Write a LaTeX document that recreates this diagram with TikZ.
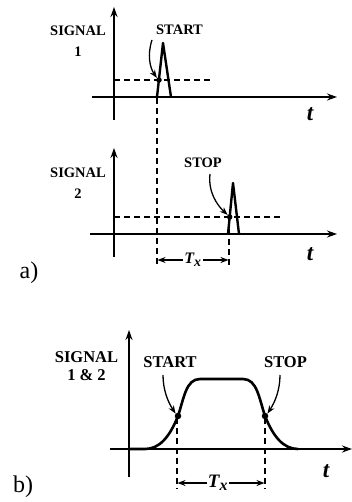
\documentclass[tikz,border=0pt]{standalone}
\usepackage{fontspec}
\setmainfont{Liberation Serif}
\usetikzlibrary{arrows.meta}
\begin{document}
\begin{tikzpicture}[x=1pt,y=-1pt,
  axis/.style={line width=1.8pt,-{Stealth[length=10pt,width=7pt]}},
  sig/.style={line width=2.4pt,line join=round},
  dashline/.style={line width=1.2pt,dash pattern=on 6pt off 4pt},
  lbla/.style={font=\fontsize{14.5}{21}\bfseries\selectfont,align=center,inner sep=0pt},
  lblb/.style={font=\fontsize{16.5}{18}\bfseries\selectfont,align=center,inner sep=0pt},
  tlbl/.style={font=\fontsize{23}{23}\bfseries\itshape\selectfont,inner sep=0pt},
  txa/.style={font=\fontsize{16}{16}\bfseries\itshape\selectfont,inner sep=1pt},
  txb/.style={font=\fontsize{19}{19}\bfseries\itshape\selectfont,inner sep=1pt},
  pnl/.style={font=\fontsize{24}{24}\selectfont,inner sep=0pt},
  pointer/.style={line width=1.3pt,-{Stealth[length=8pt,width=6pt]}},
  dimarrow/.style={line width=1.4pt,-{Stealth[length=8pt,width=6pt]}},
  dotc/.style={circle,fill=black,inner sep=0pt,minimum size=5.5pt}
]
\useasboundingbox (0,0) rectangle (352,502);

% ---------- panel a1 ----------
\coordinate (a1yb) at (114,120); \coordinate (a1yt) at (114,7);
\coordinate (a1xl) at (92,97); \coordinate (a1xr) at (337,97);
\draw[axis] (a1yb) -- (a1yt);
\draw[axis] (a1xl) -- (a1xr);
\node[lbla] (sig1) at (78,41) {SIGNAL\\1};
\node[lbla] (start1) at (179.5,30) {START};
\node[tlbl] (t1) at (310,114) {t};
\coordinate (h1l) at (114,80); \coordinate (h1r) at (212,80);
\draw[dashline] (h1l) -- (h1r);
\coordinate (p1a) at (157,97); \coordinate (p1b) at (163,43); \coordinate (p1c) at (171,97);
\draw[sig] (p1a) -- (p1b) -- (p1c);
\node[dotc] (d1) at (159,80) {};
\coordinate (s1a) at (152,40);
\draw[pointer] (s1a) .. controls (147,55) and (150,68) .. (d1.north west);

% ---------- panel a2 ----------
\coordinate (a2yb) at (114,257); \coordinate (a2yt) at (114,148);
\coordinate (a2xl) at (90,234); \coordinate (a2xr) at (337,234);
\draw[axis] (a2yb) -- (a2yt);
\draw[axis] (a2xl) -- (a2xr);
\node[lbla] (sig2) at (78,183) {SIGNAL\\2};
\node[lbla] (stop2) at (203,163) {STOP};
\node[tlbl] (t2) at (310,254) {t};
\coordinate (h2l) at (114,217); \coordinate (h2r) at (280,217);
\draw[dashline] (h2l) -- (h2r);
\coordinate (p2a) at (228,234); \coordinate (p2b) at (233,183); \coordinate (p2c) at (239,234);
\draw[sig] (p2a) -- (p2b) -- (p2c);
\node[dotc] (d2) at (229.7,217) {};
\coordinate (s2a) at (210,174);
\draw[pointer] (s2a) .. controls (208,192) and (217,205) .. (d2.north west);

% vertical dashed + Tx (a)
\coordinate (va1t) at (157,98); \coordinate (va1b) at (157,267);
\coordinate (va2t) at (229,219); \coordinate (va2b) at (229,267);
\draw[dashline] (va1t) -- (va1b);
\draw[dashline] (va2t) -- (va2b);
\node[txa] (txa) at (193,260) {T\textsubscript{\fontsize{14}{14}\selectfont x}};
\coordinate (txal) at (157.5,260); \coordinate (txar) at (228.5,260);
\draw[dimarrow] (txa.west) -- (txal);
\draw[dimarrow] (txa.east) -- (txar);
\node[pnl] (la) at (29,273) {a)};

% ---------- panel b ----------
\coordinate (byb) at (129,477); \coordinate (byt) at (129,330);
\coordinate (bxl) at (110,449); \coordinate (bxr) at (352,449);
\draw[axis] (byb) -- (byt);
\draw[axis] (bxl) -- (bxr);
\node[lblb] (sigb) at (86.5,366) {SIGNAL\\1 \& 2};
\node[lblb] (startb) at (170,362) {START};
\node[lblb] (stopb) at (285.5,362) {STOP};
\node[tlbl] (tb) at (326,471) {t};
\draw[line width=2.6pt,line join=round] (130,449) -- (145,449) .. controls (160,449) and (170,436) .. (178,416)
  .. controls (184,398) and (186,379) .. (200,379) -- (243,379)
  .. controls (257,379) and (259,398) .. (265,416)
  .. controls (273,436) and (283,449) .. (298,449);
\node[dotc,minimum size=6.5pt] (db1) at (178,416) {};
\node[dotc,minimum size=6.5pt] (db2) at (265,416) {};
\coordinate (sb1) at (163,375); \coordinate (sb2) at (280,375);
\draw[pointer] (sb1) .. controls (163,390) and (168,402) .. (db1.north west);
\draw[pointer] (sb2) .. controls (280,390) and (275,402) .. (db2.north east);
\coordinate (vb1t) at (177,418); \coordinate (vb1b) at (177,489);
\coordinate (vb2t) at (265,418); \coordinate (vb2b) at (265,489);
\draw[dashline] (vb1t) -- (vb1b);
\draw[dashline] (vb2t) -- (vb2b);
\node[txb] (txb) at (218,483) {T\textsubscript{\fontsize{16}{16}\selectfont x}};
\coordinate (txbl) at (177.5,483); \coordinate (txbr) at (264.5,483);
\draw[dimarrow] (txb.west) -- (txbl);
\draw[dimarrow] (txb.east) -- (txbr);
\node[pnl] (lb) at (23,487) {b)};
\end{tikzpicture}
\end{document}
